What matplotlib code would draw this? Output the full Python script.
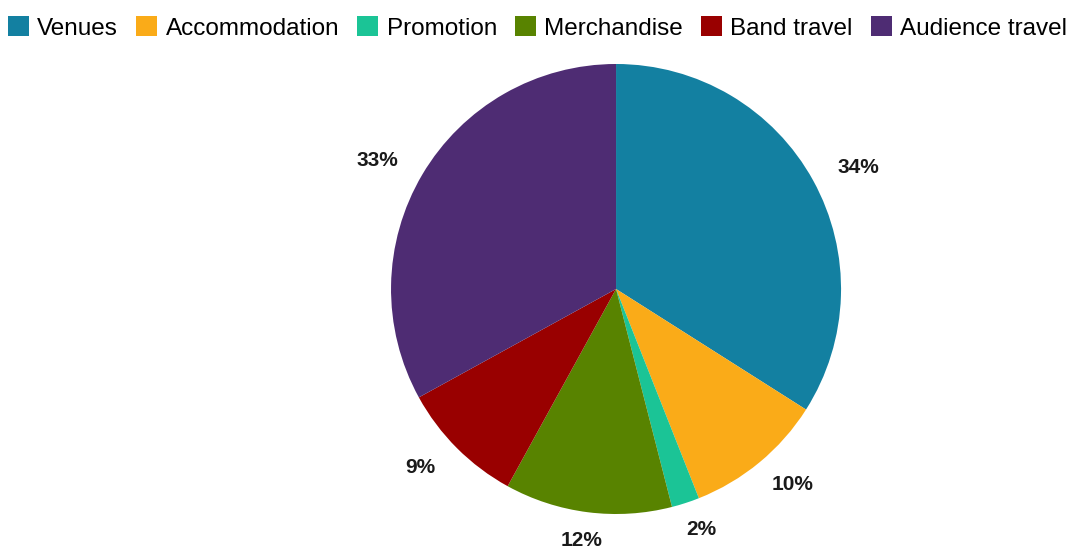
import numpy as np
import matplotlib.pyplot as plt

categories = ['Venues', 'Accommodation', 'Promotion', 'Merchandise', 'Band travel', 'Audience travel']
shares = [34, 10, 2, 12, 9, 33]
colors = ['#1380A1', '#FAAB18', '#1BC496', '#588300', '#990000', '#4E2C73']

plt.rcParams['font.family'] = ['Liberation Sans', 'DejaVu Sans']

fig = plt.figure(figsize=(10.71, 5.46), dpi=100)
ax = fig.add_axes([0.3651, 0.0586, 0.4202, 0.8242])

wedges, texts, autotexts = ax.pie(shares, colors=colors, startangle=90, counterclock=False,
                                  autopct='%d%%', pctdistance=1.19,
                                  textprops={'fontsize': 15, 'fontweight': 'bold', 'color': '#1a1a1a'})
ax.set_aspect('equal')
ax.set_xlim(-1, 1)
ax.set_ylim(-1, 1)

# labels sit on an ellipse a bit wider than it is tall, like the original
rx, ry = 1.23, 1.125
for w, t in zip(wedges, autotexts):
    ang = np.deg2rad((w.theta1 + w.theta2) / 2)
    t.set_va('center')
    t.set_position((rx * np.cos(ang), ry * np.sin(ang)))

fig.legend(wedges, categories, loc='upper center', bbox_to_anchor=(0.502, 1.01), ncol=6,
           frameon=False, fontsize=17.5, handlelength=0.85, handleheight=0.85,
           handletextpad=0.35, columnspacing=0.75)

plt.savefig('out.png', dpi=100)
